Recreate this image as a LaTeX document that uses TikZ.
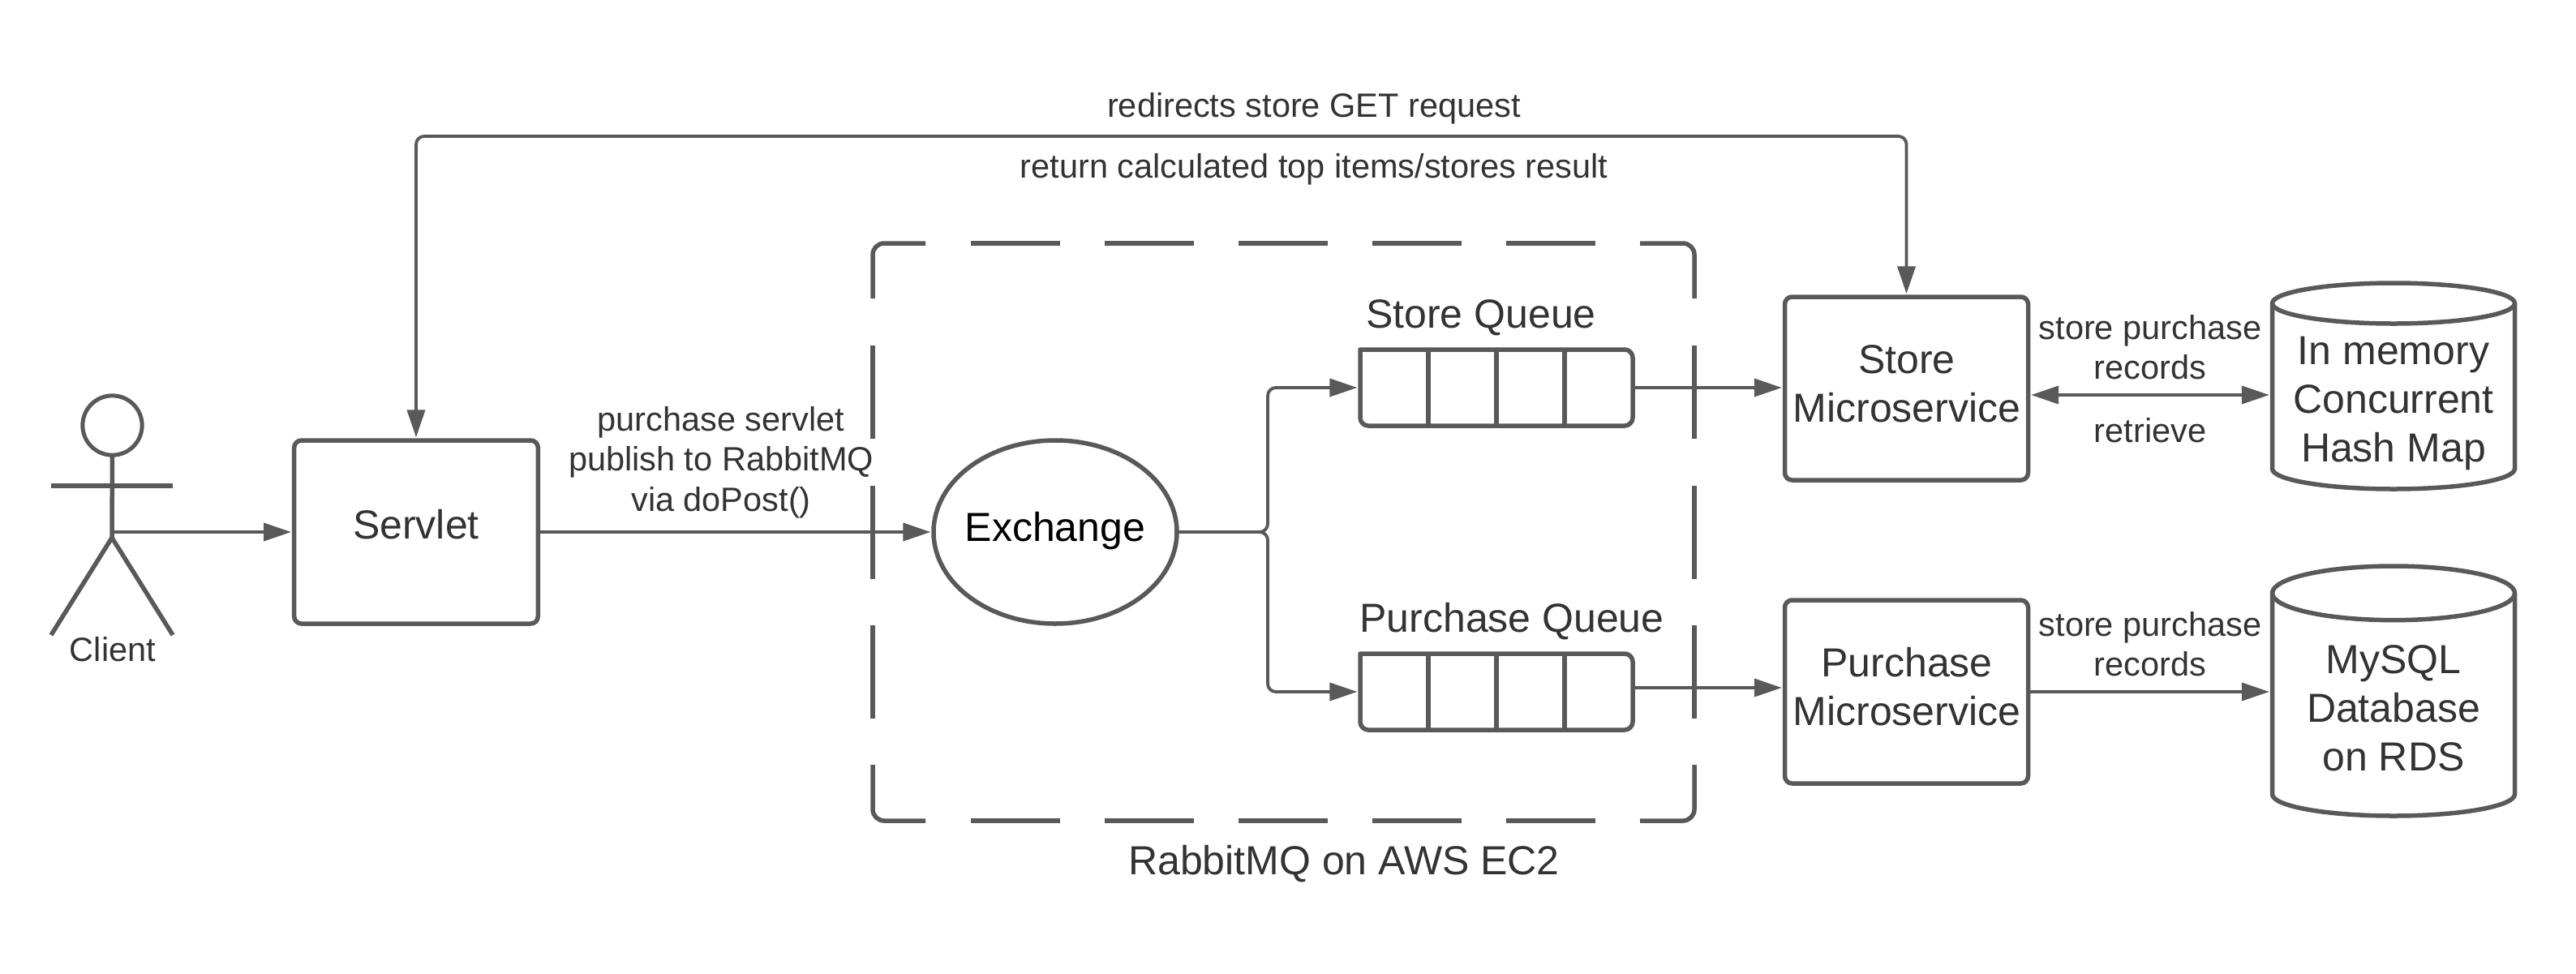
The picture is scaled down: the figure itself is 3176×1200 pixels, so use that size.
\documentclass[tikz,border=0pt]{standalone}
\usepackage{fontspec}
\setmainfont{Liberation Sans}
\usetikzlibrary{arrows.meta,calc,shapes.geometric}
\definecolor{ln}{HTML}{595959}
\definecolor{tx}{HTML}{333333}
\newcommand{\smalltxt}{\fontsize{12.45}{14.9}\selectfont}
\newcommand{\bigtxt}{\fontsize{15}{18}\selectfont}
\tikzset{
  x=0.3pt,y=-0.3pt,
  shp/.style={draw=ln,line width=1.65pt,fill=white,rectangle,rounded corners=2.7pt,inner sep=0pt,outer sep=0pt},
  hull/.style={rectangle,inner sep=0pt,outer sep=0pt},
  thick line/.style={draw=ln,line width=1.65pt,line join=round},
  conn/.style={draw=ln,line width=1.15pt,-{Triangle[length=10.2pt,width=6.6pt]},shorten >=1.1pt,rounded corners=3pt},
  conn2/.style={conn,{Triangle[length=10.2pt,width=6.6pt]}-{Triangle[length=10.2pt,width=6.6pt]},shorten <=1.1pt},
  small/.style={text=tx,font=\smalltxt,align=center,inner sep=0pt},
  big/.style={text=tx,font=\bigtxt,align=center,inner sep=0pt},
}
\newcommand{\queue}[1]{%
  \draw[thick line] (#1.north west) [rounded corners=3pt] -- (#1.north east) -- (#1.south east) -- (#1.south west) [sharp corners] -- cycle;
  \foreach \f in {0.25,0.5,0.75}{\draw[thick line] ($(#1.north west)!\f!(#1.north east)$) -- ($(#1.south west)!\f!(#1.south east)$);}
}
\newcommand{\cyl}[3]{% name, ry top (pt), ry bottom (pt)
  \draw[thick line] ($(#1.north west)+(0,#2/0.3)$) -- ($(#1.south west)+(0,-#3/0.3)$) arc[start angle=180,end angle=360,x radius=44.85pt,y radius=#3pt] -- ($(#1.north east)+(0,#2/0.3)$);
  \draw[thick line] ($(#1.north)+(0,#2/0.3)$) ellipse[x radius=44.85pt,y radius=#2pt];
}
\begin{document}
\begin{tikzpicture}
\useasboundingbox[fill=white] (0,0) rectangle (3176,1200);

% group box
\foreach \a in {1197,1362,1527,1692,1857}{
  \draw[thick line] (\a,300) -- (\a+110,300);
  \draw[thick line] (\a,1012) -- (\a+110,1012);
}
\foreach \a in {426,599,771}{
  \draw[thick line] (1076,\a) -- (1076,\a+115);
  \draw[thick line] (2089,\a) -- (2089,\a+115);
}
\draw[thick line,rounded corners=4.2pt] (1076,368) -- (1076,300) -- (1141,300);
\draw[thick line,rounded corners=4.2pt] (2022,300) -- (2089,300) -- (2089,368);
\draw[thick line,rounded corners=4.2pt] (1076,943) -- (1076,1012) -- (1141,1012);
\draw[thick line,rounded corners=4.2pt] (2022,1012) -- (2089,1012) -- (2089,943);
\node[big] (grouplabel) at (1657,1065) {RabbitMQ on AWS EC2};

% actor
\node[draw=ln,line width=1.5pt,circle,minimum size=22pt,inner sep=0pt,outer sep=0pt] (head) at (138.5,524.5) {};
\coordinate (hip) at (138,663);
\coordinate (waist) at (138,656);
\coordinate (armL) at (63,599);
\coordinate (armR) at (213,599);
\coordinate (legL) at (63,783);
\coordinate (legR) at (213,783);
\draw[thick line] (head.south) -- (hip);
\draw[thick line] (armL) -- (armR);
\draw[thick line] (legL) -- (hip) -- (legR);
\node[small] (client) at (139,801) {Client};

% boxes
\node[shp,minimum width=90.2pt,minimum height=67.8pt] (servlet) at (513,656) {};
\node[big] (servletT) at (513,647) {Servlet};
\node[shp,ellipse,rounded corners=0pt,minimum width=90pt,minimum height=67.8pt] (exchange) at (1301,656) {};
\node[big,text=black] (exchangeT) at (1301,655) {Exchange};
\node[hull,minimum width=100.8pt,minimum height=28.2pt] (q1) at (1845,478) {};
\node[hull,minimum width=100.8pt,minimum height=28.2pt] (q2) at (1845,853) {};
\queue{q1}
\queue{q2}
\node[big] (q1T) at (1826,392) {Store Queue};
\node[big] (q2T) at (1864,766) {Purchase Queue};
\node[shp,minimum width=90pt,minimum height=67.8pt] (store) at (2350.5,479) {};
\node[big] (storeT) at (2351,473) {Store\\Microservice};
\node[shp,minimum width=90pt,minimum height=67.8pt] (purchase) at (2350.5,853) {};
\node[big] (purchaseT) at (2351,847) {Purchase\\Microservice};
\node[hull,minimum width=89.7pt,minimum height=76.2pt] (db1) at (2951,476) {};
\node[hull,minimum width=89.7pt,minimum height=92.4pt] (db2) at (2951,852) {};
\cyl{db1}{7.5}{7.5}
\cyl{db2}{10}{8}
\node[big] (db1T) at (2951,497) {In memory\\Concurrent\\Hash Map};
\node[big] (db2T) at (2951,873) {MySQL\\Database\\on RDS};

% connectors
\coordinate (top1) at (servlet.north |- 0,168);
\coordinate (top2) at (store.north |- 0,168);
\draw[conn2] (servlet.north) -- (top1) -- (top2) -- (store.north);
\draw[conn] (waist) -- (servlet.west);
\draw[conn] (servlet.east) -- (exchange.west);
\coordinate (j) at (1563,656);
\draw[conn] (exchange.east) -- (j) -- (j |- q1.west) -- (q1.west);
\draw[conn] (exchange.east) -- (j) -- (j |- q2.west) -- (q2.west);
\draw[conn] (q1.east) -- (q1.east -| store.west);
\coordinate (q2out) at ($(q2.east)+(0,-5)$);
\draw[conn] (q2out) -- (q2out -| purchase.west);
\coordinate (a1) at ($(store.east)+(0,8)$);
\draw[conn2] (a1) -- (a1 -| db1.west);
\draw[conn] (purchase.east) -- (purchase.east -| db2.west);

% labels
\node[small] (l1) at (1620,134) {redirects store GET request};
\node[small] (l2) at (1620,209) {return calculated top items/stores result};
\node[small] (l3) at (889,570) {purchase servlet\\publish to RabbitMQ\\via doPost()};
\node[small] (l4) at (2651,428) {store purchase\\records};
\node[small] (l5) at (2651,531) {retrieve};
\node[small] (l6) at (2651,794) {store purchase\\records};
\end{tikzpicture}
\end{document}
